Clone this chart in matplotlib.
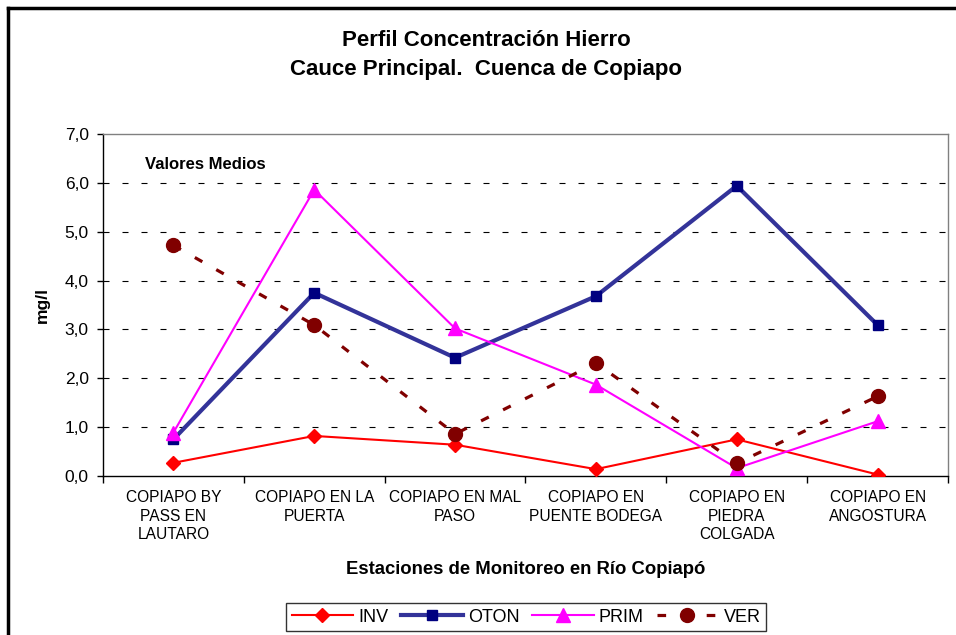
import matplotlib.pyplot as plt
from matplotlib.lines import Line2D
from matplotlib.ticker import FixedLocator, FuncFormatter

plt.rcParams['font.family'] = ['Liberation Sans', 'DejaVu Sans']

# datos
estaciones = ['COPIAPO BY\nPASS EN\nLAUTARO', 'COPIAPO EN LA\nPUERTA', 'COPIAPO EN MAL\nPASO',
              'COPIAPO EN\nPUENTE BODEGA', 'COPIAPO EN\nPIEDRA\nCOLGADA', 'COPIAPO EN\nANGOSTURA']
inv = [0.27, 0.82, 0.64, 0.14, 0.75, 0.03]
oton = [0.75, 3.75, 2.42, 3.68, 5.94, 3.09]
prim = [0.89, 5.86, 3.02, 1.87, 0.16, 1.12]
ver = [4.72, 3.09, 0.86, 2.31, 0.26, 1.63]

fig = plt.figure(figsize=(9.56, 6.35), dpi=100)
ax = fig.add_axes([103 / 956, 1 - 476 / 635, 845 / 956, 342 / 635])

x = list(range(len(estaciones)))

# series
ax.plot(x, inv, color='#FF0000', lw=1.5, marker='D', ms=7.5,
        mfc='#FF0000', mec='#FF0000', label='INV', zorder=3)
ax.plot(x, oton, color='#333399', lw=3, marker='s', ms=7.5,
        mfc='#000080', mec='#000080', label='OTON', zorder=3)
ax.plot(x, prim, color='#FF00FF', lw=1.5, marker='^', ms=10,
        mfc='#FF00FF', mec='#FF00FF', label='PRIM', zorder=3)
ax.plot(x, ver, color='#800000', lw=2.3, ls=(0, (2.7, 5)), marker='o', ms=10,
        mfc='#800000', mec='#800000', label='VER', zorder=3)

# ejes
ax.set_xlim(-0.5, len(estaciones) - 0.5)
ax.set_ylim(0, 7)
ax.set_yticks([0, 1, 2, 3, 4, 5, 6, 7])
ax.yaxis.set_major_formatter(FuncFormatter(lambda v, p: f'{v:.1f}'.replace('.', ',')))
ax.set_xticks(x)
ax.set_xticklabels(estaciones, fontsize=11.2, linespacing=1.31)
ax.xaxis.set_minor_locator(FixedLocator([i - 0.5 for i in range(len(estaciones) + 1)]))
ax.tick_params(axis='x', which='major', length=0, pad=10)
ax.tick_params(axis='x', which='minor', length=5, width=1, direction='out')
ax.tick_params(axis='y', length=4.3, width=1, direction='out', labelsize=12.5, pad=6)

for v in range(1, 7):
    ax.axhline(v, color='black', lw=0.8, ls=(0, (5.4, 11.7)), zorder=1)

ax.spines['left'].set_color('black')
ax.spines['bottom'].set_color('black')
ax.spines['top'].set_color('#808080')
ax.spines['right'].set_color('#808080')
for s in ax.spines.values():
    s.set_linewidth(1)

ax.set_ylabel('mg/l', fontsize=12.5, fontweight='bold', va='center')
ax.yaxis.set_label_coords((42 - 103) / 845, 0.5)
ax.set_xlabel('Estaciones de Monitoreo en Río Copiapó', fontsize=13.3, fontweight='bold', va='center')
ax.xaxis.set_label_coords(0.5, (476 - 570) / 342)

ax.text(0.05, 0.91, 'Valores Medios', transform=ax.transAxes, fontsize=12,
        fontweight='bold', va='center', ha='left')

# titulo
fig.text(486 / 956, 1 - 40 / 635, 'Perfil Concentración Hierro', ha='center', va='center',
         fontsize=16, fontweight='bold')
fig.text(486 / 956, 1 - 70 / 635, 'Cauce Principal.  Cuenca de Copiapo', ha='center', va='center',
         fontsize=16, fontweight='bold')

# leyenda
leg = fig.legend(loc='center', bbox_to_anchor=(526 / 956, 1 - 617 / 635), ncol=4,
                 fontsize=13, frameon=True, fancybox=False, handlelength=3.4,
                 columnspacing=0.7, handletextpad=0.3, borderpad=0.3, borderaxespad=0)
leg.get_frame().set_edgecolor('black')
leg.get_frame().set_linewidth(1)

# borde de la figura
fig.add_artist(Line2D([8 / 956, 1], [1 - 8 / 635, 1 - 8 / 635], color='black', lw=2.5,
                      transform=fig.transFigure))
fig.add_artist(Line2D([8 / 956, 8 / 956], [0, 1 - 8 / 635], color='black', lw=2.5,
                      transform=fig.transFigure))

fig.savefig('out.png', dpi=100)
